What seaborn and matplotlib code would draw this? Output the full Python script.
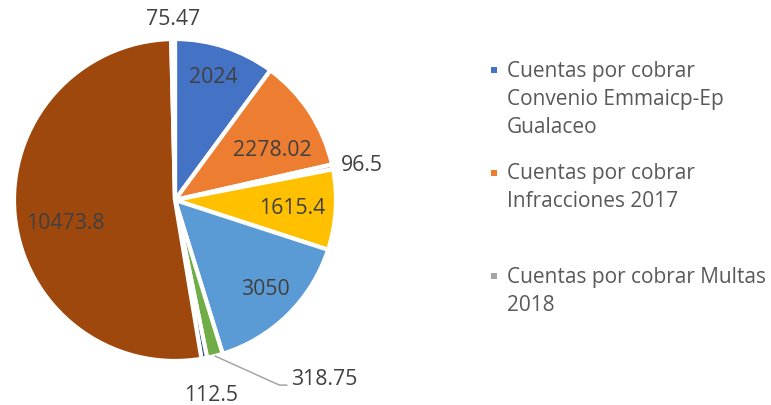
import matplotlib
matplotlib.use("Agg")
import matplotlib.pyplot as plt
import matplotlib.patches as mpatches
from matplotlib.legend_handler import HandlerPatch
import numpy as np
import seaborn as sns

# slices, clockwise from 12 o'clock
values = [2024, 2278.02, 96.5, 1615.4, 3050, 318.75, 112.5, 10473.8, 75.47]
colors = ["#4472C4", "#ED7D31", "#A5A5A5", "#FFC000", "#5B9BD5",
          "#70AD47", "#264478", "#9E480E", "#636363"]
legend_names = ["Cuentas por cobrar\nConvenio Emmaicp-Ep\nGualaceo",
                "Cuentas por cobrar\nInfracciones 2017",
                "Cuentas por cobrar Multas\n2018"]

# label placement (pie radii, angle nudge in degrees); None -> leader line
label_r = [0.81, 0.685, 1.18, 0.73, 0.78, None, 1.22, 0.695, 1.134]
label_shift = [1, -4.8, -0.7, 0.8, 1.4, 0, 0, 5.6, 0]
leg_tops = [60.5, 163, 266.5]  # pixel rows of the legend blocks

W, H = 771, 405
cx, cy, R = 175, 200, 161
FS = 15.3
LEG_FS = 15.0

sns.set_theme(style="white")
plt.rcParams['font.family'] = ['Open Sans', 'DejaVu Sans']

fig = plt.figure(figsize=(W / 100, H / 100), dpi=100)
side = 2.5 * R
ax = fig.add_axes([(cx - side / 2) / W, (H - cy - side / 2) / H, side / W, side / H])

wedges, _ = ax.pie(values, colors=colors, startangle=90, counterclock=False,
                   wedgeprops=dict(edgecolor='white', linewidth=3))

for w, v, r, s in zip(wedges, values, label_r, label_shift):
    mid = np.deg2rad((w.theta1 + w.theta2) / 2)
    if r is None:
        ax.annotate(f"{v:g}", xy=(np.cos(mid), np.sin(mid)), xytext=(54.9, -20.7),
                    textcoords='offset points', ha='left', va='baseline',
                    fontsize=FS, color='#404040',
                    arrowprops=dict(arrowstyle='-', color='#A6A6A6', lw=1.1,
                                    shrinkA=3, shrinkB=0, patchA=None,
                                    relpos=(0, 0.22),
                                    connectionstyle='angle,angleA=0,angleB=-24.3,rad=0'))
        continue
    ang = np.deg2rad((w.theta1 + w.theta2) / 2 + s)
    ax.text(r * np.cos(ang), r * np.sin(ang), f"{v:g}", ha='center',
            va='center_baseline', fontsize=FS, color='#404040')


def small_square(legend, orig_handle, xdescent, ydescent, width, height, fontsize):
    return mpatches.Rectangle((-xdescent, -ydescent), width, width)


for i, (name, top) in enumerate(zip(legend_names, leg_tops)):
    leg = fig.legend(handles=[mpatches.Patch(facecolor=colors[i], linewidth=0)],
                     labels=[name], loc='upper left',
                     bbox_to_anchor=(491 / W, 1 - top / H), frameon=False,
                     borderpad=0, borderaxespad=0, handlelength=0.29,
                     handleheight=0.56, handletextpad=0.48, fontsize=LEG_FS,
                     labelcolor='#595959',
                     handler_map={mpatches.Patch: HandlerPatch(patch_func=small_square)})
    for t in leg.get_texts():
        t.set_linespacing(1.46)
    for col in leg._legend_handle_box.get_children():
        for row in col.get_children():
            row.align = 'top'

fig.savefig("out.png", dpi=100)
